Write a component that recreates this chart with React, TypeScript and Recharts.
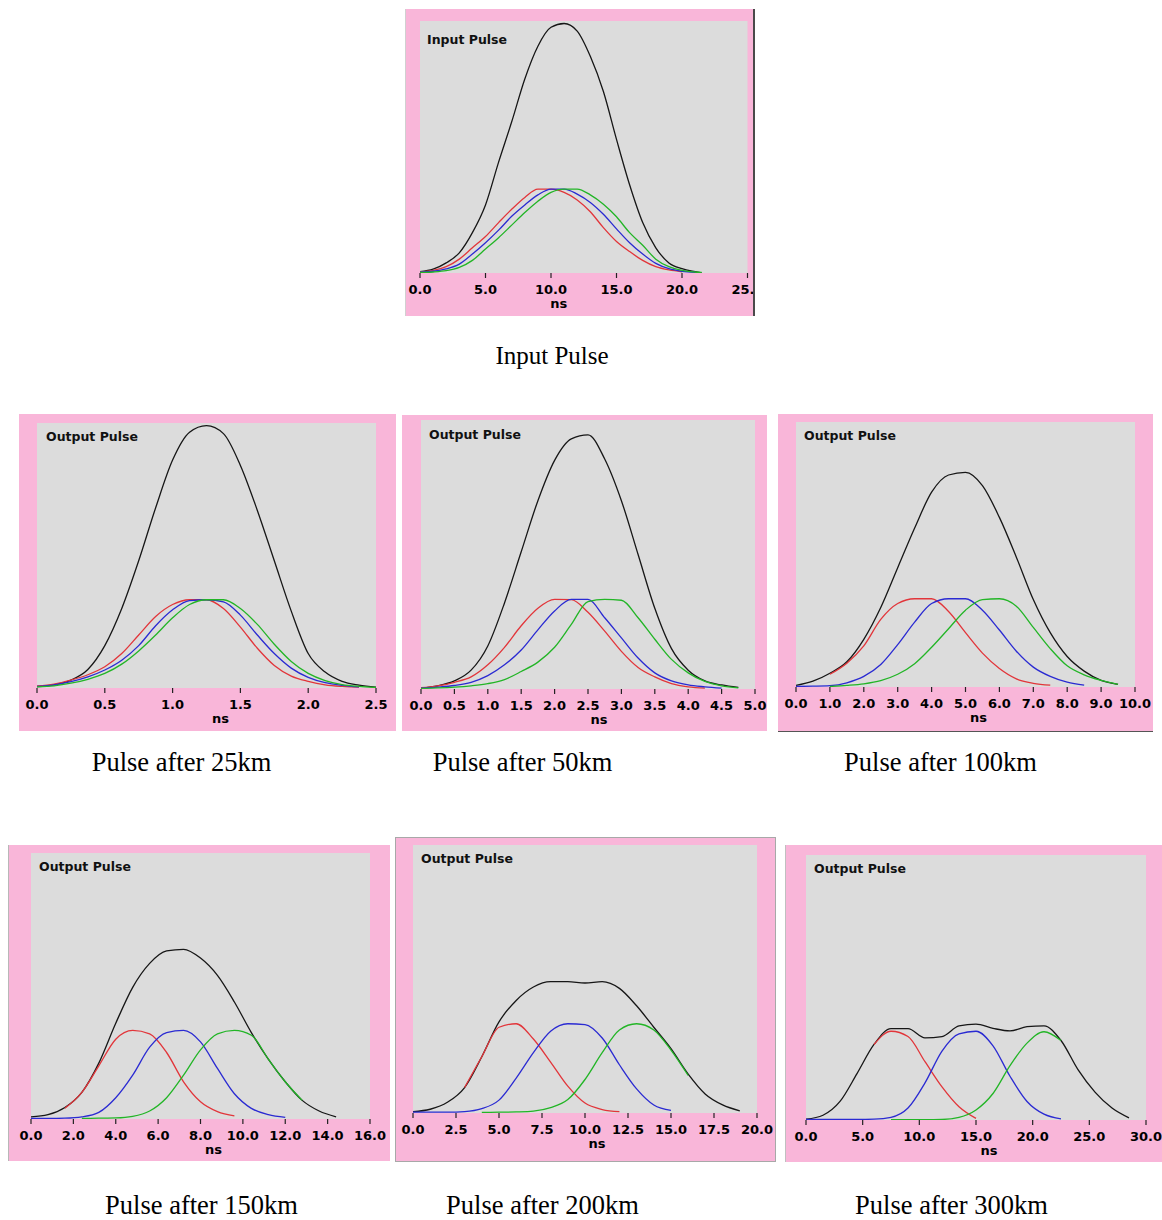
import React from 'react';
import { LineChart, Line, XAxis, YAxis, CartesianGrid } from 'recharts';

// ---------- Input pulse ----------
const inputTime = [0, 1, 2, 3, 4, 5, 6, 7, 8, 9, 10, 11, 12, 13, 14, 15, 16, 17, 18, 19, 20, 21, 21.5];
const inputBlack = [0.005, 0.015, 0.04, 0.08, 0.16, 0.27, 0.44, 0.6, 0.77, 0.9, 0.975, 0.99, 0.96, 0.86, 0.72, 0.53, 0.35, 0.2, 0.1, 0.04, 0.017, 0.005, 0];
const inputRed = [0.004, 0.01, 0.025, 0.055, 0.1, 0.145, 0.2, 0.253, 0.3, 0.333, 0.333, 0.32, 0.29, 0.243, 0.18, 0.125, 0.085, 0.05, 0.025, 0.012, 0.005, null, null];
const inputBlue = [0.003, 0.007, 0.016, 0.035, 0.075, 0.12, 0.17, 0.225, 0.27, 0.31, 0.333, 0.333, 0.313, 0.28, 0.233, 0.175, 0.12, 0.075, 0.038, 0.017, 0.007, 0.003, null];
const inputGreen = [0.002, 0.004, 0.009, 0.022, 0.05, 0.095, 0.14, 0.19, 0.24, 0.285, 0.32, 0.333, 0.333, 0.31, 0.273, 0.223, 0.16, 0.11, 0.055, 0.025, 0.01, 0.004, 0.002];
const inputTicks = [0, 5, 10, 15, 20, 25];

// ---------- After 25 km ----------
const km25Time = [0, 0.125, 0.25, 0.375, 0.5, 0.625, 0.75, 0.875, 1, 1.125, 1.25, 1.375, 1.5, 1.625, 1.75, 1.875, 2, 2.125, 2.25, 2.375, 2.5];
const km25Black = [0.005, 0.012, 0.03, 0.07, 0.16, 0.3, 0.48, 0.68, 0.86, 0.965, 0.99, 0.96, 0.84, 0.67, 0.48, 0.29, 0.13, 0.06, 0.025, 0.011, 0.003];
const km25Red = [0.008, 0.015, 0.03, 0.05, 0.08, 0.13, 0.2, 0.27, 0.315, 0.333, 0.333, 0.3, 0.23, 0.15, 0.085, 0.045, 0.025, 0.012, 0.006, 0.003, null];
const km25Blue = [0.006, 0.012, 0.024, 0.042, 0.068, 0.105, 0.16, 0.235, 0.295, 0.33, 0.333, 0.325, 0.275, 0.2, 0.13, 0.075, 0.04, 0.02, 0.01, 0.004, null];
const km25Green = [0.004, 0.008, 0.018, 0.033, 0.055, 0.09, 0.14, 0.2, 0.265, 0.315, 0.333, 0.333, 0.3, 0.24, 0.165, 0.1, 0.055, 0.028, 0.013, 0.006, 0.002];
const km25Ticks = [0, 0.5, 1, 1.5, 2, 2.5];

// ---------- After 50 km ----------
const km50Time = [0, 0.25, 0.5, 0.75, 1, 1.25, 1.5, 1.75, 2, 2.25, 2.5, 2.75, 3, 3.25, 3.5, 3.75, 4, 4.25, 4.5, 4.75, 5];
const km50Black = [0.004, 0.012, 0.03, 0.07, 0.16, 0.32, 0.51, 0.7, 0.85, 0.93, 0.945, 0.855, 0.7, 0.5, 0.3, 0.15, 0.07, 0.03, 0.015, 0.006, null];
const km50Red = [0.005, 0.012, 0.025, 0.045, 0.09, 0.155, 0.235, 0.3, 0.333, 0.332, 0.285, 0.215, 0.14, 0.08, 0.045, 0.02, 0.008, 0.003, null, null, null];
const km50Blue = [0.003, 0.007, 0.013, 0.025, 0.05, 0.09, 0.145, 0.22, 0.29, 0.333, 0.333, 0.265, 0.19, 0.115, 0.06, 0.03, 0.015, 0.008, 0.003, null, null];
const km50Green = [0.002, 0.004, 0.007, 0.012, 0.02, 0.035, 0.065, 0.1, 0.155, 0.24, 0.325, 0.333, 0.33, 0.265, 0.185, 0.11, 0.06, 0.028, 0.012, 0.004, null];
const km50Ticks = [0, 0.5, 1, 1.5, 2, 2.5, 3, 3.5, 4, 4.5, 5];

// ---------- After 100 km ----------
const km100Time = [0, 0.5, 1, 1.5, 2, 2.5, 3, 3.5, 4, 4.5, 5, 5.5, 6, 6.5, 7, 7.5, 8, 8.5, 9, 9.5, 10];
const km100Black = [0.006, 0.022, 0.052, 0.095, 0.18, 0.3, 0.45, 0.6, 0.735, 0.8, 0.81, 0.76, 0.64, 0.49, 0.33, 0.205, 0.115, 0.06, 0.025, 0.01, null];
const km100Red = [null, null, 0.048, 0.09, 0.155, 0.255, 0.315, 0.333, 0.333, 0.285, 0.205, 0.128, 0.07, 0.031, 0.014, 0.007, null, null, null, null, null];
const km100Blue = [0.002, 0.003, 0.005, 0.016, 0.04, 0.085, 0.16, 0.245, 0.315, 0.333, 0.333, 0.29, 0.215, 0.135, 0.075, 0.04, 0.018, 0.007, null, null, null];
const km100Green = [null, null, 0.002, 0.006, 0.012, 0.024, 0.048, 0.088, 0.15, 0.22, 0.29, 0.33, 0.333, 0.305, 0.225, 0.145, 0.08, 0.046, 0.025, 0.01, null];
const km100Ticks = [0, 1, 2, 3, 4, 5, 6, 7, 8, 9, 10];

// ---------- After 150 km ----------
const km150Time = [0, 0.8, 1.6, 2.4, 3.2, 4, 4.8, 5.6, 6.4, 7.2, 8, 8.8, 9.6, 10.4, 11.2, 12, 12.8, 13.6, 14.4, 15.2, 16];
const km150Black = [0.008, 0.016, 0.043, 0.1, 0.21, 0.36, 0.495, 0.585, 0.632, 0.638, 0.605, 0.54, 0.44, 0.325, 0.225, 0.14, 0.07, 0.03, 0.008, null, null];
const km150Red = [null, null, 0.04, 0.1, 0.2, 0.3, 0.333, 0.32, 0.25, 0.14, 0.065, 0.028, 0.012, null, null, null, null, null, null, null, null];
const km150Blue = [0.002, 0.002, 0.003, 0.008, 0.025, 0.08, 0.165, 0.27, 0.325, 0.333, 0.29, 0.19, 0.095, 0.04, 0.016, 0.006, null, null, null, null, null];
const km150Green = [null, null, null, 0.002, 0.003, 0.004, 0.01, 0.03, 0.08, 0.165, 0.26, 0.32, 0.333, 0.315, 0.225, 0.14, 0.07, null, null, null, null];
const km150Ticks = [0, 2, 4, 6, 8, 10, 12, 14, 16];

// ---------- After 200 km ----------
const km200Time = [0, 1, 2, 3, 4, 5, 6, 7, 8, 9, 10, 11, 12, 13, 14, 15, 16, 17, 18, 19, 20];
const km200Black = [0.005, 0.014, 0.04, 0.095, 0.21, 0.34, 0.42, 0.47, 0.49, 0.49, 0.485, 0.49, 0.465, 0.4, 0.32, 0.24, 0.145, 0.07, 0.03, 0.008, null];
const km200Red = [null, null, null, 0.095, 0.21, 0.32, 0.333, 0.276, 0.19, 0.1, 0.037, 0.013, 0.005, null, null, null, null, null, null, null, null];
const km200Blue = [0.003, 0.003, 0.003, 0.005, 0.016, 0.048, 0.13, 0.225, 0.305, 0.333, 0.33, 0.28, 0.18, 0.09, 0.03, 0.01, null, null, null, null, null];
const km200Green = [null, null, null, null, 0.002, 0.003, 0.004, 0.007, 0.02, 0.05, 0.125, 0.225, 0.31, 0.333, 0.31, 0.235, 0.14, null, null, null, null];
const km200Ticks = [0, 2.5, 5, 7.5, 10, 12.5, 15, 17.5, 20];

// ---------- After 300 km ----------
const km300Time = [0, 1.5, 3, 4.5, 6, 7.5, 9, 10.5, 12, 13.5, 15, 16.5, 18, 19.5, 21, 22.5, 24, 25.5, 27, 28.5, 30];
const km300Black = [0.003, 0.018, 0.07, 0.175, 0.285, 0.345, 0.345, 0.31, 0.315, 0.355, 0.362, 0.346, 0.336, 0.352, 0.355, 0.3, 0.19, 0.105, 0.045, 0.008, null];
const km300Red = [null, null, null, null, 0.285, 0.335, 0.315, 0.22, 0.125, 0.05, 0.006, null, null, null, null, null, null, null, null, null, null];
const km300Blue = [0.002, 0.002, 0.002, 0.002, 0.003, 0.01, 0.045, 0.14, 0.26, 0.325, 0.335, 0.28, 0.165, 0.07, 0.022, 0.004, null, null, null, null, null];
const km300Green = [null, null, null, null, null, 0.001, 0.001, 0.001, 0.002, 0.01, 0.038, 0.1, 0.205, 0.29, 0.333, 0.3, null, null, null, null, null];
const km300Ticks = [0, 5, 10, 15, 20, 25, 30];

// ---------- styling ----------
const PINK = '#f9b6d9';
const PLOT_BG = '#dcdcdc';
const AX_H = 36;
const C_BLACK = '#161616';
const C_RED = '#e2353a';
const C_BLUE = '#2a2ad2';
const C_GREEN = '#22b526';

type Box = { l: number; t: number; r: number; b: number };
type Row = { t: number; black: number | null; red: number | null; blue: number | null; green: number | null };

function buildRows(time: number[], black: (number | null)[], red: (number | null)[], blue: (number | null)[], green: (number | null)[]): Row[] {
  return time.map((t, i) => ({ t, black: black[i], red: red[i], blue: blue[i], green: green[i] }));
}

type PanelCfg = {
  key: string;
  title: string;
  caption: string;
  rows: Row[];
  max: number;
  ticks: number[];
  pink: Box;
  plot: Box;
  titleDx: number;
  titleBase: number;
  nsDx: number;
  captionX: number;
  captionBase: number;
  captionSize: number;
  extraStyle?: React.CSSProperties;
};

const panels: PanelCfg[] = [
  {
    key: 'input', title: 'Input Pulse', caption: 'Input Pulse',
    rows: buildRows(inputTime, inputBlack, inputRed, inputBlue, inputGreen),
    max: 25, ticks: inputTicks,
    pink: { l: 405, t: 9, r: 752, b: 316 }, plot: { l: 419, t: 21, r: 746.5, b: 273 },
    titleDx: 7, titleBase: 24, nsDx: -25, captionX: 552, captionBase: 364, captionSize: 25,
    extraStyle: { borderRight: '2px solid #4a4a4a', borderLeft: '1px solid #d0d0d0' },
  },
  {
    key: '25', title: 'Output Pulse', caption: 'Pulse after 25km',
    rows: buildRows(km25Time, km25Black, km25Red, km25Blue, km25Green),
    max: 2.5, ticks: km25Ticks,
    pink: { l: 19, t: 414, r: 396, b: 731 }, plot: { l: 37, t: 423, r: 376, b: 688 },
    titleDx: 9, titleBase: 19, nsDx: 14, captionX: 181.5, captionBase: 772, captionSize: 26.5,
  },
  {
    key: '50', title: 'Output Pulse', caption: 'Pulse after 50km',
    rows: buildRows(km50Time, km50Black, km50Red, km50Blue, km50Green),
    max: 5, ticks: km50Ticks,
    pink: { l: 402, t: 415, r: 767, b: 731 }, plot: { l: 421, t: 420, r: 755, b: 689 },
    titleDx: 8, titleBase: 20, nsDx: 11, captionX: 522.5, captionBase: 772, captionSize: 26.5,
  },
  {
    key: '100', title: 'Output Pulse', caption: 'Pulse after 100km',
    rows: buildRows(km100Time, km100Black, km100Red, km100Blue, km100Green),
    max: 10, ticks: km100Ticks,
    pink: { l: 778, t: 414, r: 1153, b: 731 }, plot: { l: 796, t: 422, r: 1135, b: 687 },
    titleDx: 8, titleBase: 19, nsDx: 13, captionX: 940.5, captionBase: 772, captionSize: 26.5,
    extraStyle: { borderBottom: '1px solid #555' },
  },
  {
    key: '150', title: 'Output Pulse', caption: 'Pulse after 150km',
    rows: buildRows(km150Time, km150Black, km150Red, km150Blue, km150Green),
    max: 16, ticks: km150Ticks,
    pink: { l: 8, t: 845, r: 389, b: 1161 }, plot: { l: 30, t: 853, r: 369, b: 1119 },
    titleDx: 8, titleBase: 19, nsDx: 13, captionX: 201.5, captionBase: 1215, captionSize: 26.5,
    extraStyle: { borderLeft: '1px solid #b8b8b8' },
  },
  {
    key: '200', title: 'Output Pulse', caption: 'Pulse after 200km',
    rows: buildRows(km200Time, km200Black, km200Red, km200Blue, km200Green),
    max: 20, ticks: km200Ticks,
    pink: { l: 396, t: 838, r: 775, b: 1161 }, plot: { l: 413, t: 845, r: 757, b: 1113 },
    titleDx: 8, titleBase: 19, nsDx: 12, captionX: 542.5, captionBase: 1215, captionSize: 26.5,
    extraStyle: { outline: '1px solid #a8a8a8' },
  },
  {
    key: '300', title: 'Output Pulse', caption: 'Pulse after 300km',
    rows: buildRows(km300Time, km300Black, km300Red, km300Blue, km300Green),
    max: 30, ticks: km300Ticks,
    pink: { l: 785, t: 845, r: 1162, b: 1162 }, plot: { l: 805, t: 855, r: 1145, b: 1120 },
    titleDx: 8, titleBase: 19, nsDx: 13, captionX: 951.5, captionBase: 1215, captionSize: 26.5,
    extraStyle: { borderLeft: '1px solid #c0c0c0' },
  },
];

const tickStyle = { fill: '#000', fontFamily: 'DejaVu Sans', fontWeight: 700, fontSize: 13 };

function Panel({ cfg }: { cfg: PanelCfg }) {
  const { pink, plot } = cfg;
  const w = pink.r - pink.l;
  const h = pink.b - pink.t;
  const margin = {
    left: plot.l - pink.l,
    top: plot.t - pink.t,
    right: pink.r - plot.r,
    bottom: pink.b - plot.b - AX_H,
  };
  return (
    <div
      style={{
        position: 'absolute', left: pink.l, top: pink.t, width: w, height: h,
        background: PINK, overflow: 'hidden', ...(cfg.extraStyle || {}),
      }}
    >
      <LineChart width={w} height={h} data={cfg.rows} margin={margin}>
        <CartesianGrid fill={PLOT_BG} horizontal={false} vertical={false} />
        <XAxis
          dataKey="t" type="number" domain={[0, cfg.max]} ticks={cfg.ticks} interval={0}
          allowDataOverflow height={AX_H} axisLine={false}
          tickSize={5} tickMargin={7} tickLine={{ stroke: '#222', strokeWidth: 1.2 }}
          tick={tickStyle}
          tickFormatter={(v: number) => v.toFixed(1)}
          label={{ value: 'ns', position: 'insideBottom', offset: 1.5, dx: cfg.nsDx, fill: '#000', fontFamily: 'DejaVu Sans', fontWeight: 700, fontSize: 13 }}
        />
        <XAxis
          xAxisId="top" orientation="top" type="number" domain={[0, cfg.max]} height={0}
          tick={false} tickLine={false} axisLine={{ stroke: '#7a7a7a', strokeWidth: 1.6 }}
        />
        <YAxis
          domain={[0, 1]} width={0} tick={false} tickLine={false} allowDataOverflow
          axisLine={{ stroke: '#5a5a5a', strokeWidth: 1.6 }}
        />
        <Line type="monotone" dataKey="black" stroke={C_BLACK} strokeWidth={1.3} dot={false} isAnimationActive={false} />
        <Line type="monotone" dataKey="red" stroke={C_RED} strokeWidth={1.3} dot={false} isAnimationActive={false} />
        <Line type="monotone" dataKey="blue" stroke={C_BLUE} strokeWidth={1.3} dot={false} isAnimationActive={false} />
        <Line type="monotone" dataKey="green" stroke={C_GREEN} strokeWidth={1.3} dot={false} isAnimationActive={false} />
      </LineChart>
      <div
        style={{
          position: 'absolute',
          left: plot.l - pink.l + cfg.titleDx,
          top: plot.t - pink.t + cfg.titleBase - 10.6,
          fontFamily: 'DejaVu Sans', fontWeight: 700, fontSize: 12.5, lineHeight: '12.5px',
          color: '#111', whiteSpace: 'nowrap',
        }}
      >
        {cfg.title}
      </div>
    </div>
  );
}

export default function App() {
  return (
    <div style={{ position: 'absolute', left: 0, top: 0, width: 1162, height: 1220, background: '#fff' }}>
      {panels.map((p) => {
        // baseline offset for Liberation Serif with line-height 0.8em
        const lh = p.captionSize * 0.8;
        const baseOff = (lh - p.captionSize * 1.107) / 2 + p.captionSize * 0.891;
        return (
          <React.Fragment key={p.key}>
            <Panel cfg={p} />
            <div
              style={{
                position: 'absolute', left: p.captionX - 160, width: 320, top: p.captionBase - baseOff,
                textAlign: 'center', fontFamily: '"Liberation Serif", "Times New Roman", serif',
                fontSize: p.captionSize, lineHeight: `${lh}px`, color: '#000', whiteSpace: 'nowrap',
              }}
            >
              {p.caption}
            </div>
          </React.Fragment>
        );
      })}
    </div>
  );
}
